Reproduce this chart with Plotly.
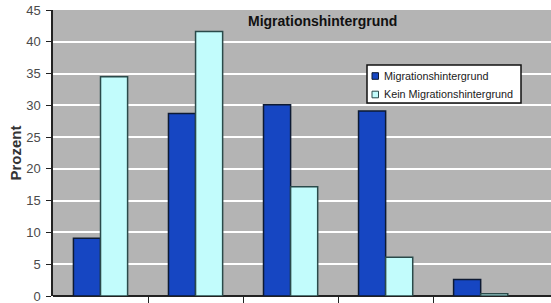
import plotly.graph_objects as go

positions = [0, 1, 2, 3, 4]
mig = [9.1, 28.7, 30.1, 29.1, 2.6]
kein = [34.5, 41.6, 17.2, 6.1, 0.35]
series_names = ["Migrationshintergrund", "Kein Migrationshintergrund"]
series_colors = ["#1646c2", "#c2fcfc"]
outline_colors = ["#0d1a33", "#2a4a4a"]
y_ticks = [0, 5, 10, 15, 20, 25, 30, 35, 40, 45]

# body margin removed via post_script; plot area spans px x 53..551, y 10..296
W, H = 551, 303
ML, MT, MB, MR = 53, 10, 7, 0
PX0, PY0 = ML, MT
PW, PH = W - ML - MR, H - MT - MB


def px(x):
    return (x - PX0) / PW


def py(y):
    return 1 - (y - PY0) / PH


fig = go.Figure()
for name, vals, col, oc in zip(series_names, [mig, kein], series_colors, outline_colors):
    fig.add_trace(go.Bar(x=positions, y=vals, name=name,
                         marker=dict(color=col, line=dict(color=oc, width=1.5))))

shapes = [
    dict(type="rect", xref="paper", yref="paper", x0=px(367), x1=px(521), y0=py(103), y1=py(65),
         fillcolor="white", line=dict(color="#111", width=1.5), layer="above"),
]
annotations = [
    dict(text="<b>Migrationshintergrund</b>", x=px(322), y=py(21), xref="paper", yref="paper",
         xanchor="center", yanchor="middle", showarrow=False,
         font=dict(size=14, color="#111")),
]
for i, (name, col, oc) in enumerate(zip(series_names, series_colors, outline_colors)):
    cy = 76 + i * 18.5
    shapes.append(dict(type="rect", xref="paper", yref="paper",
                       x0=px(372), x1=px(378.5), y0=py(cy + 3.3), y1=py(cy - 3.3),
                       fillcolor=col, line=dict(color=oc, width=1), layer="above"))
    annotations.append(dict(text=name, x=px(382), y=py(cy), xref="paper", yref="paper",
                            xanchor="left", yanchor="middle", showarrow=False,
                            font=dict(family="Liberation Sans, Arial", size=10.8, color="#1a1a1a")))

fig.update_layout(
    width=W, height=H,
    margin=dict(l=ML, r=MR, t=MT, b=MB, pad=0),
    paper_bgcolor="white", plot_bgcolor="#b4b4b4",
    barmode="group", bargap=0.43, bargroupgap=0,
    font=dict(family="Liberation Sans, Arial", size=12, color="#333"),
    showlegend=False,
    xaxis=dict(range=[-0.5, 4.74], showgrid=False, zeroline=False,
               tickvals=[0.5, 1.5, 2.5, 3.5], ticks="outside", ticklen=6, tickcolor="#222",
               showticklabels=False, showline=False),
    yaxis=dict(range=[0, 45], tickvals=y_ticks, showgrid=True, gridcolor="white", gridwidth=2,
               showline=True, linecolor="#222", linewidth=1.5, ticks="outside", ticklen=5,
               tickcolor="#222", zeroline=True, zerolinecolor="#222", zerolinewidth=1.5,
               tickfont=dict(size=13, color="#4a4a4a"), ticklabelstandoff=3,
               ticklabeloverflow="allow",
               title=dict(text="<b>Prozent</b>", font=dict(size=15, color="#333"), standoff=1)),
    shapes=shapes,
    annotations=annotations,
)
fig.write_html("out.html", config={"displayModeBar": False},
               post_script="document.body.style.margin='0';document.body.style.overflow='hidden';")
